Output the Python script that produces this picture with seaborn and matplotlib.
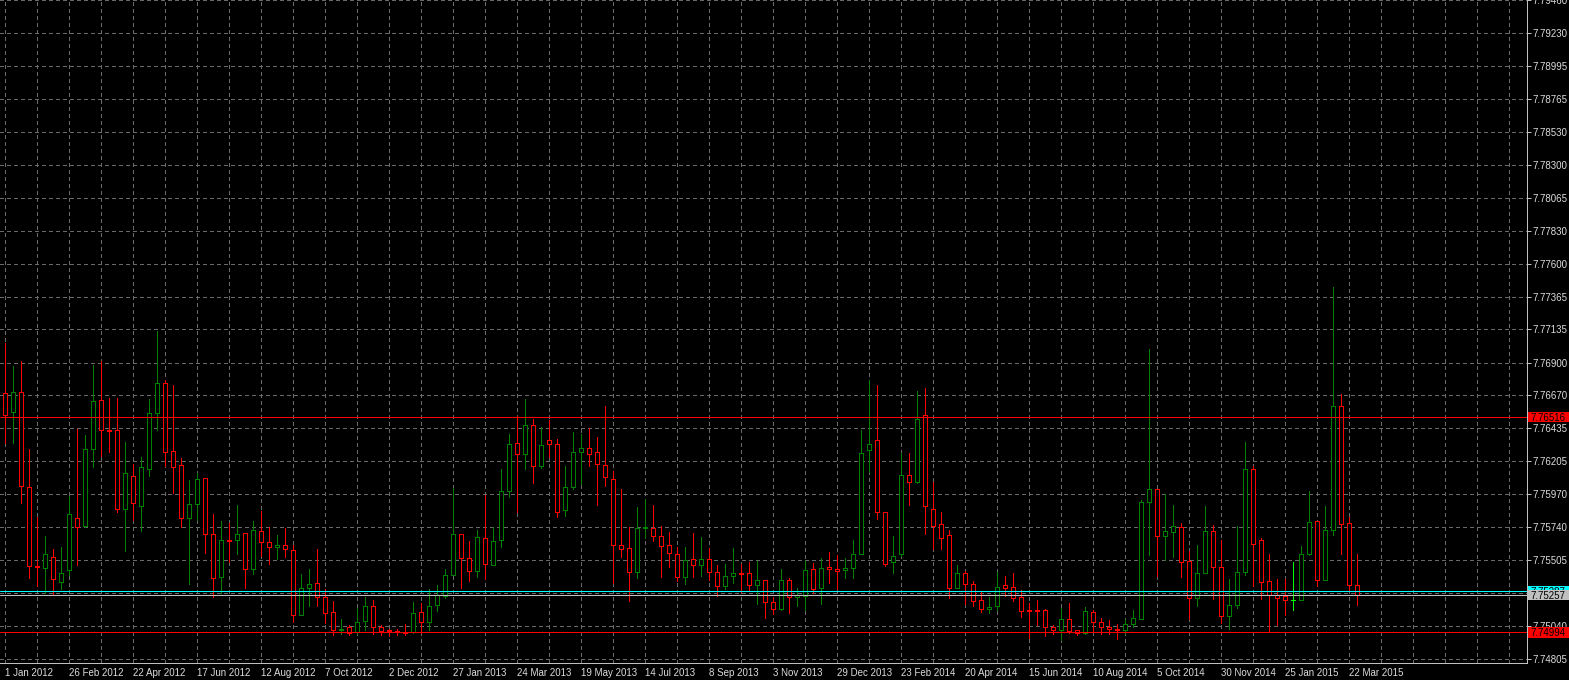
import numpy as np
import pandas as pd
import matplotlib
matplotlib.use("Agg")
import matplotlib.pyplot as plt
import matplotlib.transforms as mtransforms
from matplotlib.patches import Rectangle
import seaborn as sns

# ---------------- data (weekly OHLC) ----------------
opens = [7.76683, 7.76548, 7.76690, 7.76023, 7.75465, 7.75446, 7.75528, 7.75352, 7.75432, 7.75804,
         7.75747, 7.76287, 7.76633, 7.76421, 7.76421, 7.75863, 7.76096, 7.75889, 7.76150, 7.76541,
         7.76753, 7.76273, 7.76174, 7.75799, 7.75898, 7.76082, 7.75686, 7.75382, 7.75644, 7.75644,
         7.75693, 7.75439, 7.75707, 7.75630, 7.75594, 7.75608, 7.75573, 7.75114, 7.75304, 7.75340,
         7.75241, 7.75135, 7.75012, 7.75029, 7.74993, 7.75071, 7.75177, 7.75029, 7.75008, 7.75001,
         7.74993, 7.74993, 7.75135, 7.75064, 7.75184, 7.75248, 7.75396, 7.75686, 7.75516, 7.75425,
         7.75658, 7.75467, 7.75644, 7.75990, 7.76329, 7.76252, 7.76457, 7.76167, 7.76350, 7.76322,
         7.75856, 7.76018, 7.76266, 7.76294, 7.76266, 7.76174, 7.76075, 7.75608, 7.75587, 7.75418,
         7.75728, 7.75728, 7.75672, 7.75608, 7.75545, 7.75382, 7.75509, 7.75467, 7.75509, 7.75418,
         7.75319, 7.75389, 7.75410, 7.75410, 7.75326, 7.75361, 7.75205, 7.75156, 7.75361, 7.75241,
         7.75248, 7.75439, 7.75304, 7.75453, 7.75439, 7.75432, 7.75446, 7.75545, 7.76280, 7.76350,
         7.75842, 7.75488, 7.75545, 7.76103, 7.76054, 7.76527, 7.75863, 7.75757, 7.75679, 7.75304,
         7.75410, 7.75333, 7.75220, 7.75156, 7.75177, 7.75326, 7.75311, 7.75241, 7.75149, 7.75149,
         7.75149, 7.75029, 7.75008, 7.75085, 7.75008, 7.74986, 7.75135, 7.75064, 7.75029, 7.75015,
         7.75008, 7.75050, 7.75085, 7.75912, 7.76004, 7.75672, 7.75700, 7.75736, 7.75495, 7.75234,
         7.75410, 7.75707, 7.75453, 7.75107, 7.75184, 7.75418, 7.76146, 7.75644, 7.75354, 7.75255,
         7.75248, 7.75220, 7.75220, 7.75545, 7.75778, 7.75361, 7.75714, 7.76591, 7.75764, 7.75326]
highs = [7.77036, 7.76876, 7.76909, 7.76287, 7.75806, 7.75674, 7.75580, 7.75594, 7.75959, 7.76431,
         7.76386, 7.76881, 7.76909, 7.76650, 7.76650, 7.76339, 7.76183, 7.76233, 7.76643, 7.77123,
         7.76775, 7.76742, 7.76226, 7.76070, 7.76122, 7.76087, 7.75830, 7.75780, 7.75766, 7.75893,
         7.75696, 7.75780, 7.75851, 7.75738, 7.75681, 7.75731, 7.75608, 7.75406, 7.75441, 7.75580,
         7.75297, 7.75215, 7.75085, 7.75045, 7.75163, 7.75243, 7.75220, 7.75043, 7.75015, 7.75015,
         7.75050, 7.75205, 7.75198, 7.75297, 7.75326, 7.75439, 7.76011, 7.75690, 7.75637, 7.75714,
         7.75962, 7.75736, 7.76146, 7.76393, 7.76520, 7.76640, 7.76499, 7.76442, 7.76492, 7.76358,
         7.76167, 7.76407, 7.76393, 7.76435, 7.76372, 7.76591, 7.76134, 7.76004, 7.75736, 7.75877,
         7.75933, 7.75891, 7.75743, 7.75700, 7.75594, 7.75594, 7.75693, 7.75665, 7.75587, 7.75467,
         7.75474, 7.75587, 7.75474, 7.75488, 7.75495, 7.75365, 7.75241, 7.75439, 7.75375, 7.75304,
         7.75495, 7.75481, 7.75516, 7.75559, 7.75538, 7.75516, 7.75644, 7.76421, 7.76775, 7.76739,
         7.75846, 7.75672, 7.76263, 7.76259, 7.76697, 7.76718, 7.76054, 7.75842, 7.75714, 7.75467,
         7.75429, 7.75354, 7.75276, 7.75241, 7.75418, 7.75389, 7.75410, 7.75290, 7.75198, 7.75220,
         7.75156, 7.75043, 7.75163, 7.75198, 7.75010, 7.75170, 7.75149, 7.75092, 7.75078, 7.75050,
         7.75085, 7.75149, 7.75926, 7.76994, 7.76008, 7.75969, 7.75891, 7.75764, 7.75566, 7.75608,
         7.75884, 7.75750, 7.75644, 7.75368, 7.75743, 7.76336, 7.76167, 7.75658, 7.75545, 7.75368,
         7.75368, 7.75488, 7.75606, 7.75992, 7.75782, 7.75884, 7.77437, 7.76676, 7.75806, 7.75547]
lows = [7.76334, 7.76334, 7.75905, 7.75375, 7.75323, 7.75269, 7.75255, 7.75302, 7.75399, 7.75469,
        7.75736, 7.76164, 7.76242, 7.76270, 7.75844, 7.75571, 7.75787, 7.75712, 7.76101, 7.76426,
        7.76167, 7.75978, 7.75740, 7.75337, 7.75787, 7.75552, 7.75246, 7.75269, 7.75493, 7.75545,
        7.75309, 7.75403, 7.75533, 7.75479, 7.75509, 7.75524, 7.75066, 7.75114, 7.75182, 7.75182,
        7.75057, 7.74972, 7.74979, 7.74972, 7.74979, 7.75008, 7.74979, 7.74972, 7.74965, 7.74972,
        7.74972, 7.74986, 7.74986, 7.75008, 7.75142, 7.75234, 7.75396, 7.75304, 7.75354, 7.75382,
        7.75368, 7.75467, 7.75594, 7.75948, 7.75842, 7.76146, 7.76047, 7.76153, 7.76230, 7.75806,
        7.75813, 7.76004, 7.76039, 7.76167, 7.75891, 7.76025, 7.75342, 7.75524, 7.75213, 7.75375,
        7.75658, 7.75637, 7.75382, 7.75458, 7.75354, 7.75333, 7.75382, 7.75389, 7.75361, 7.75248,
        7.75297, 7.75340, 7.75276, 7.75283, 7.75191, 7.75092, 7.75121, 7.75149, 7.75128, 7.75177,
        7.75149, 7.75269, 7.75191, 7.75340, 7.75297, 7.75375, 7.75375, 7.75545, 7.76124, 7.75792,
        7.75460, 7.75410, 7.75531, 7.75891, 7.76047, 7.75686, 7.75580, 7.75580, 7.75234, 7.75304,
        7.75191, 7.75177, 7.75135, 7.75128, 7.75149, 7.75248, 7.75213, 7.75099, 7.74951, 7.75043,
        7.74965, 7.74979, 7.74937, 7.74986, 7.74972, 7.74979, 7.74993, 7.74979, 7.74979, 7.74944,
        7.74979, 7.75029, 7.75085, 7.75538, 7.75389, 7.75502, 7.75524, 7.75382, 7.75085, 7.75177,
        7.75410, 7.75227, 7.75057, 7.75015, 7.75163, 7.75396, 7.75319, 7.75227, 7.74993, 7.75043,
        7.75114, 7.75149, 7.75220, 7.75538, 7.75319, 7.75361, 7.75679, 7.75547, 7.75283, 7.75184]
closes = [7.76530, 7.76690, 7.76028, 7.75465, 7.75453, 7.75545, 7.75368, 7.75410, 7.75827, 7.75736,
          7.76287, 7.76626, 7.76421, 7.76414, 7.75863, 7.76117, 7.75905, 7.76160, 7.76541, 7.76753,
          7.76266, 7.76164, 7.75799, 7.75901, 7.76075, 7.75686, 7.75375, 7.75644, 7.75637, 7.75686,
          7.75439, 7.75714, 7.75630, 7.75594, 7.75608, 7.75585, 7.75114, 7.75304, 7.75333, 7.75241,
          7.75128, 7.75008, 7.75019, 7.74986, 7.75064, 7.75177, 7.75029, 7.75001, 7.75001, 7.74993,
          7.74986, 7.75128, 7.75064, 7.75177, 7.75255, 7.75396, 7.75686, 7.75516, 7.75425, 7.75665,
          7.75474, 7.75637, 7.75990, 7.76322, 7.76252, 7.76457, 7.76167, 7.76315, 7.76322, 7.75842,
          7.76018, 7.76266, 7.76294, 7.76252, 7.76181, 7.76089, 7.75608, 7.75580, 7.75418, 7.75728,
          7.75740, 7.75672, 7.75601, 7.75552, 7.75382, 7.75502, 7.75467, 7.75509, 7.75418, 7.75319,
          7.75389, 7.75410, 7.75403, 7.75326, 7.75361, 7.75205, 7.75156, 7.75361, 7.75241, 7.75255,
          7.75432, 7.75297, 7.75446, 7.75439, 7.75425, 7.75446, 7.75545, 7.76259, 7.76322, 7.75842,
          7.75474, 7.75531, 7.76103, 7.76054, 7.76499, 7.75884, 7.75743, 7.75658, 7.75304, 7.75410,
          7.75333, 7.75213, 7.75156, 7.75170, 7.75311, 7.75304, 7.75234, 7.75142, 7.75144, 7.75142,
          7.75029, 7.75008, 7.75085, 7.75001, 7.74986, 7.75142, 7.75064, 7.75029, 7.75015, 7.75008,
          7.75050, 7.75092, 7.75912, 7.76004, 7.75672, 7.75707, 7.75743, 7.75488, 7.75234, 7.75410,
          7.75707, 7.75453, 7.75107, 7.75184, 7.75418, 7.76146, 7.75615, 7.75347, 7.75255, 7.75234,
          7.75220, 7.75220, 7.75545, 7.75771, 7.75361, 7.75714, 7.76591, 7.75757, 7.75326, 7.75255]

date_labels = ["1 Jan 2012", "26 Feb 2012", "22 Apr 2012", "17 Jun 2012", "12 Aug 2012",
               "7 Oct 2012", "2 Dec 2012", "27 Jan 2013", "24 Mar 2013", "19 May 2013",
               "14 Jul 2013", "8 Sep 2013", "3 Nov 2013", "29 Dec 2013", "23 Feb 2014",
               "20 Apr 2014", "15 Jun 2014", "10 Aug 2014", "5 Oct 2014", "30 Nov 2014",
               "25 Jan 2015", "22 Mar 2015"]
ytick_values = [7.79460, 7.79230, 7.78995, 7.78765, 7.78530, 7.78300, 7.78065, 7.77830,
                7.77600, 7.77365, 7.77135, 7.76900, 7.76670, 7.76435, 7.76205, 7.75970,
                7.75740, 7.75505, 7.75270, 7.75040, 7.74805]
level_lines = [7.76516, 7.74994]
bid_price = 7.75257
ask_price = 7.75287

# ---------------- style ----------------
sns.set_theme(style="dark", rc={
    "axes.facecolor": "black", "figure.facecolor": "black",
    "axes.edgecolor": "#C0C0C0", "grid.color": "#6E6E6E",
})
plt.rcParams['font.family'] = ['Liberation Sans', 'DejaVu Sans']
PX = 72.0 / 100.0  # one pixel in points

W, H = 1569, 680
fig = plt.figure(figsize=(W / 100, H / 100), dpi=100)
ax_left_px, ax_right_px, ax_bottom_px = 0, 1526.5, 662.5
ax = fig.add_axes([0, (H - ax_bottom_px) / H, ax_right_px / W, ax_bottom_px / H])
ax.set_facecolor("black")

df = pd.DataFrame({"open": opens, "high": highs, "low": lows, "close": closes})
df["idx"] = np.arange(len(df))
direction = np.sign(np.round((df["close"] - df["open"]) * 1e5))
palette = {1: "#008000", -1: "#FF0000", 0: "#00FF00"}
colors = [palette[int(d)] for d in direction]

# wicks
ax.vlines(df["idx"], df["low"], df["high"], colors=colors, linewidth=PX,
          antialiased=False, zorder=3)
# bodies (hollow, black filled)
body_bottom = np.minimum(df["open"], df["close"])
body_h = np.abs(df["close"] - df["open"])
ax.bar(df["idx"], body_h, bottom=body_bottom, width=0.5, facecolor="black",
       edgecolor=colors, linewidth=PX, antialiased=False, zorder=4)

# horizontal level lines
for lv in level_lines:
    ax.axhline(lv, color="#FF0000", linewidth=PX, snap=True, zorder=5)
ax.axhline(ask_price, color="#00FFFF", linewidth=PX, snap=True, zorder=5)
ax.axhline(bid_price, color="#C0C0C0", linewidth=PX, snap=True, zorder=5)

# limits: 8 px per bar, first bar at x=4.7px
n_px = ax_right_px - ax_left_px
x0 = -4.7 / 8.0
ax.set_xlim(x0, x0 + n_px / 8.0)
ax.set_ylim(7.747802, 7.794628)

# ticks & grid
major_x = list(range(0, 8 * len(date_labels), 8))
ax.set_xticks(major_x)
ax.set_xticklabels(date_labels)
minor_x = [v for v in range(0, 192, 4) if v not in major_x]
ax.set_xticks(minor_x, minor=True)
for lab in ax.get_xticklabels():
    lab.set_horizontalalignment("left")
ax.set_yticks(ytick_values)
ax.set_yticklabels([f"{v:.5f}" for v in ytick_values])
ax.yaxis.tick_right()

ax.grid(True, which="both", axis="both", color="#6A6A6A", linestyle=(0, (3, 3)),
        linewidth=PX, antialiased=False)
ax.set_axisbelow(True)

ax.tick_params(axis="x", which="major", length=3.5 * PX, width=PX, color="#C0C0C0",
               pad=1.5 * PX, labelsize=7, labelcolor="#DCDCDC", direction="out")
ax.tick_params(axis="x", which="minor", length=0)
ax.tick_params(axis="y", which="major", length=3.5 * PX, width=PX, color="#C0C0C0",
               pad=2 * PX, labelsize=7, labelcolor="#DCDCDC", direction="out",
               right=True, left=False, labelright=True, labelleft=False)

for side in ["top", "left"]:
    ax.spines[side].set_visible(False)
for side in ["right", "bottom"]:
    ax.spines[side].set_color("#C0C0C0")
    ax.spines[side].set_linewidth(PX)

# price label boxes on the right scale
trans = mtransforms.blended_transform_factory(fig.transFigure, ax.transData)
ylo, yhi = ax.get_ylim()
px_per_unit = ax_bottom_px / (yhi - ylo)
box_h = 10.5 / px_per_unit
bx0 = 1528 / W
bw = (W - 1528) / W


def price_box(price, face, text, z):
    ax.add_patch(Rectangle((bx0, price - box_h / 2), bw, box_h, transform=trans,
                           facecolor=face, edgecolor="none", clip_on=False, zorder=z))
    ax.text(1530.5 / W, price, text, transform=trans, ha="left", va="center_baseline",
            color="black", fontsize=7, zorder=z + 0.1, clip_on=False)


for lv in level_lines:
    price_box(lv, "#FF0000", f"{lv:.5f}", 10)
price_box(ask_price, "#00FFFF", f"{ask_price:.5f}", 10)
price_box(bid_price, "#C0C0C0", f"{bid_price:.5f}", 11)

ax.set_xlim(x0, x0 + n_px / 8.0)
ax.set_ylim(ylo, yhi)

fig.savefig("out.png", dpi=100, facecolor="black")
